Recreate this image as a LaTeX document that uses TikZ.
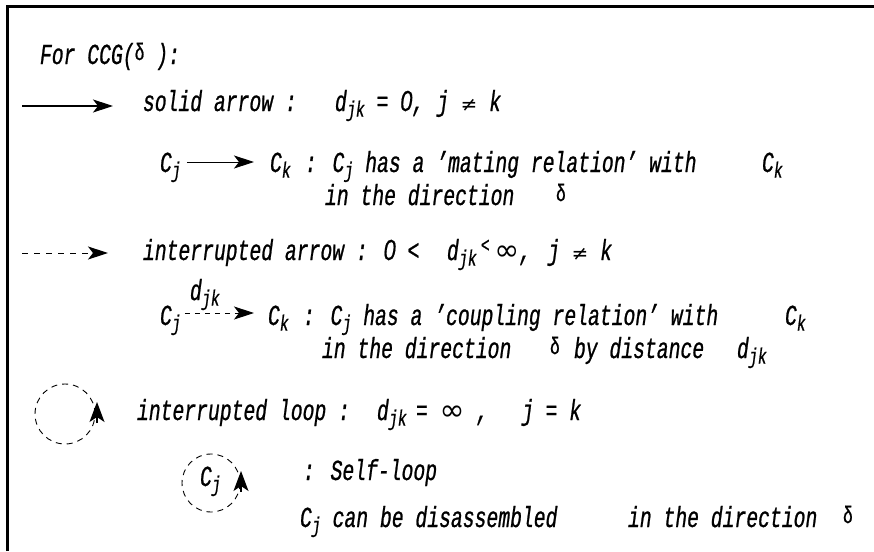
\documentclass[tikz,border=0pt]{standalone}
\usepackage{fontspec}
\setmainfont{Liberation Mono}[FakeStretch=0.68,FakeBold=0.8]
\newfontfamily\symf{DejaVu Sans}
\newfontfamily\zerof{Liberation Sans}[FakeStretch=0.75,FakeBold=0.6]
\usetikzlibrary{arrows.meta}
\newcommand\sbj[1]{\raisebox{-5.5pt}{\fontsize{22}{22}\selectfont #1}}
\newcommand\dl{\raisebox{4pt}{\upshape\fontsize{24}{24}\selectfont δ}}
\newcommand\nq{{\symf\fontsize{20}{20}\selectfont ≠}}
\newcommand\inff{{\symf\fontsize{30}{30}\selectfont ∞}}
\newcommand\zr{{\zerof\itshape 0}}
\tikzset{
  txt/.style={inner sep=0pt, outer sep=0pt, anchor=base west, font=\fontsize{29}{32}\selectfont\itshape},
  solidarr/.style={line width=1.1pt, -{Stealth[length=20pt,width=13pt,inset=5pt]}},
  dasharr/.style={line width=1pt, dash pattern=on 6pt off 6pt, -{Stealth[length=20pt,width=13pt,inset=5pt]}},
  loopc/.style={circle, draw, line width=0.9pt, dash pattern=on 6pt off 5pt, inner sep=0pt, anchor=center},
  loophead/.style={line width=1.2pt, -{Stealth[length=20pt,width=15pt,inset=5pt]}},
  border/.style={line width=3pt}
}
\begin{document}
\begin{tikzpicture}[x=1pt,y=-1pt]
\useasboundingbox (0,0) rectangle (874,551);
% frame
\coordinate (fb) at (7,551);
\coordinate (fc) at (7,7);
\coordinate (fr) at (874,7);
\draw[border] (fb) -- (fc) -- (fr);
% title
\node[txt] (t1) at (40,64) {For CCG(\dl\ ):};
% solid arrow legend
\coordinate (a1s) at (22,106);
\coordinate (a1e) at (113,106);
\draw[solidarr] (a1s) -- (a1e);
\node[txt] (s1) at (143,111) {solid arrow :};
\node[txt] (s2) at (335,111) {d\sbj{jk} = \zr,};
\node[txt] (s3) at (437,111) {j \nq\ k};
% mating relation
\node[txt] (cj1) at (160,172) {C\sbj{j}};
\node[txt] (ck1) at (270,172) {C\sbj{k}};
\draw[solidarr, line width=0.9pt] ([shift={(6pt,10pt)}]cj1.base east) -- ([shift={(-16pt,10pt)}]ck1.base west);
\node[txt] (m1) at (305,172) {: C\sbj{j} has a 'mating relation' with};
\node[txt] (ck1b) at (762,172) {C\sbj{k}};
\node[txt] (m2) at (325,205) {in the direction};
\node[txt] (m3) at (556,205) {\dl};
% interrupted arrow legend
\coordinate (a2s) at (22,253);
\coordinate (a2e) at (108,253);
\draw[dasharr] (a2s) -- (a2e);
\node[txt] (i1) at (143,260) {interrupted arrow : \zr\ <};
\node[txt] (i2) at (447,260) {d\sbj{jk}};
\node[txt] (i3) at (481,260) {\raisebox{8pt}{\fontsize{21}{21}\selectfont <}\,\inff,};
\node[txt] (i4) at (548,260) {j \nq\ k};
% coupling relation
\node[txt] (cj2) at (160,325) {C\sbj{j}};
\node[txt] (ck2) at (268,325) {C\sbj{k}};
\draw[dasharr, line width=0.9pt, dash pattern=on 5pt off 5pt] ([shift={(4pt,12pt)}]cj2.base east) -- ([shift={(-14pt,12pt)}]ck2.base west);
\node[txt] (dl2) at (190,300) {d\sbj{jk}};
\node[txt] (c1) at (303,325) {: C\sbj{j} has a 'coupling relation' with};
\node[txt] (ck2b) at (785,325) {C\sbj{k}};
\node[txt] (c2) at (322,358) {in the direction};
\node[txt] (c3) at (550,358) {\dl};
\node[txt] (c4) at (574,358) {by distance};
\node[txt] (c5) at (737,358) {d\sbj{jk}};
% interrupted loop
\node[loopc, minimum size=60pt] (lc1) at (65,414) {};
\coordinate (h1a) at (97,423);
\coordinate (h1b) at (97,402);
\draw[loophead] (h1a) -- (h1b);
\node[txt] (l1) at (137,420) {interrupted loop :};
\node[txt] (l2) at (377,420) {d\sbj{jk}};
\node[txt] (l3) at (416,420) {= \inff\ ,};
\node[txt] (l4) at (522,420) {j = k};
% self loop
\node[loopc, minimum size=58pt] (lc2) at (211,483) {};
\node[txt] (cj3) at (200,486) {C\sbj{j}};
\coordinate (h2a) at (241,492);
\coordinate (h2b) at (241,471);
\draw[loophead] (h2a) -- (h2b);
\node[txt] (sl) at (303,480) {: Self-loop};
\node[txt] (b1) at (300,527) {C\sbj{j} can be disassembled};
\node[txt] (b2) at (628,527) {in the direction};
\node[txt] (b3) at (843,527) {\dl};
\end{tikzpicture}
\end{document}
